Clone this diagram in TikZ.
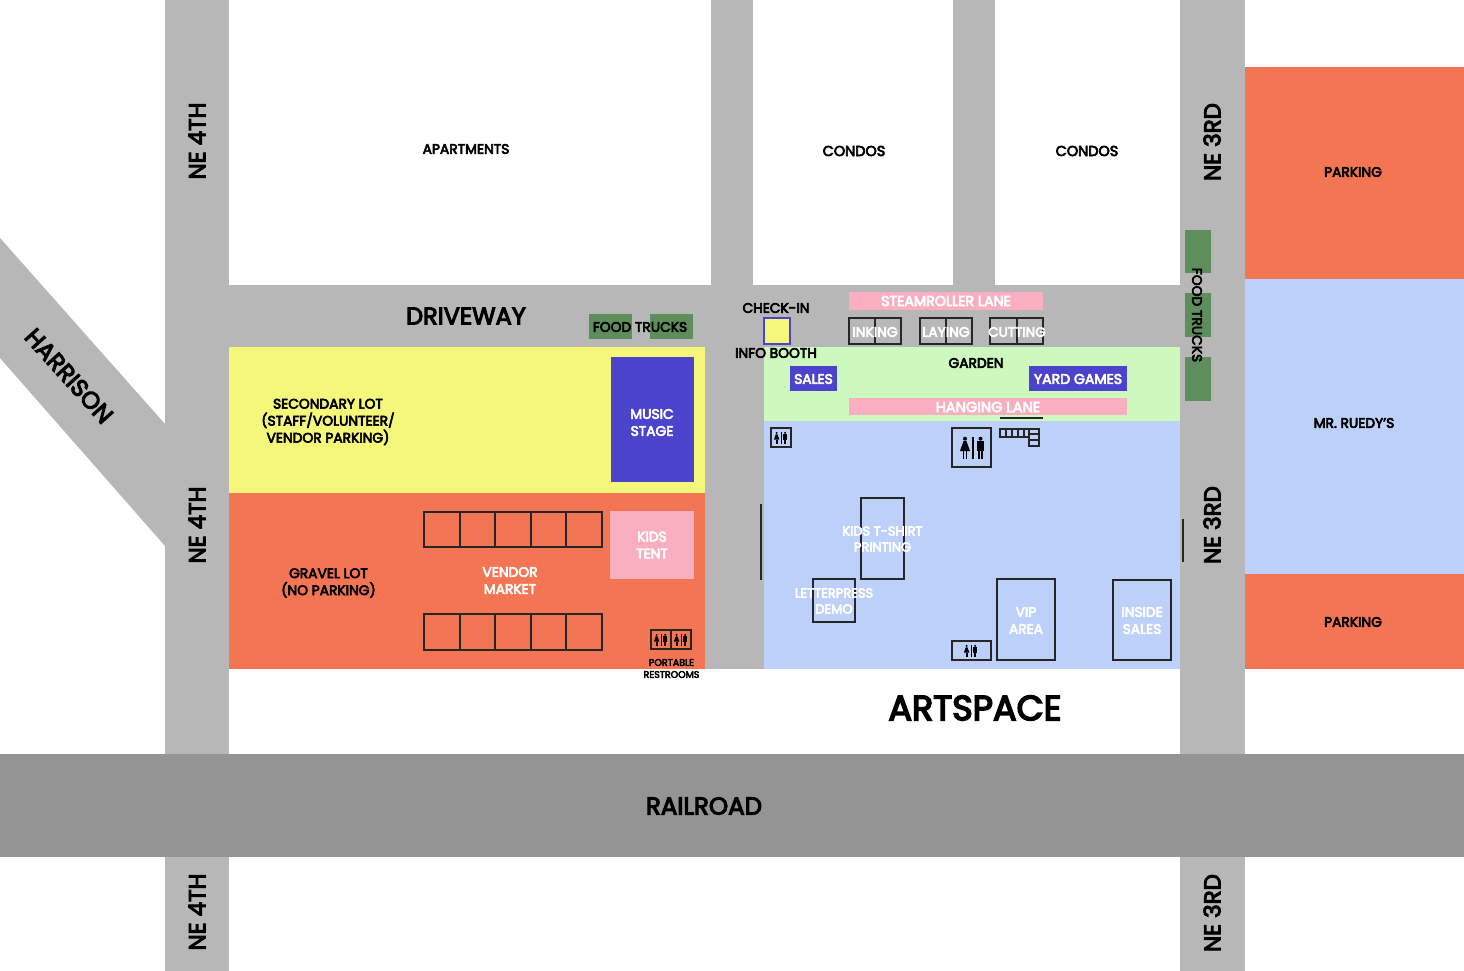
\documentclass[tikz,border=0pt]{standalone}
\usepackage{fontspec}
\setmainfont[FakeBold=4.5]{Poppins}
\definecolor{road}{HTML}{B7B7B7}
\definecolor{rail}{HTML}{949494}
\definecolor{lotyellow}{HTML}{F5F77A}
\definecolor{lotorange}{HTML}{F47553}
\definecolor{lotblue}{HTML}{BDD0F9}
\definecolor{lotgreen}{HTML}{CDF8BE}
\definecolor{stage}{HTML}{4C43CC}
\definecolor{lane}{HTML}{FAAFC1}
\definecolor{truck}{HTML}{5D8E5B}
\definecolor{ink}{HTML}{262626}
\newcommand{\fs}[2]{\fontsize{#1}{#2}\selectfont}
\tikzset{
  outl/.style={draw=ink,line width=2pt},
  lbl/.style={inner sep=0pt,align=center,text=black},
  wlbl/.style={inner sep=0pt,align=center,text=white},
  sm/.style={font=\fs{13.8}{17}},
  pics/wc/.style={code={
    \fill[black] (-8,-9.3) circle (2);
    \fill[black] (-9.5,-6.8) -- (-6.5,-6.8) -- (-3,3) -- (-13,3) -- cycle;
    \fill[black] (-10,3) rectangle (-8.8,11);
    \fill[black] (-7.2,3) rectangle (-6,11);
    \fill[black] (-.7,-11) rectangle (.7,11);
    \fill[black] (7.5,-9.3) circle (2);
    \fill[black] (4,-6.8) rectangle (11,3);
    \fill[black] (5.2,3) rectangle (7.2,11);
    \fill[black] (7.8,3) rectangle (9.8,11);
  }}
}
\begin{document}
\begin{tikzpicture}[x=1pt,y=-1pt]
\useasboundingbox (0,0) rectangle (1464,971);
\fill[white] (0,0) rectangle (1464,971);
% roads
\fill[road] (164.7,0) rectangle (229.3,971);
\fill[road] (1180,0) rectangle (1245,971);
\fill[road] (229,285) rectangle (1180,347);
\fill[road] (711,0) rectangle (753,347);
\fill[road] (953,0) rectangle (995,285);
\fill[road] (705,347) rectangle (764,669);
\fill[road] (0,238) -- (165,424) -- (165,546) -- (0,358) -- cycle;
\fill[rail] (0,754) rectangle (1464,857);
% lots
\fill[lotyellow] (229.3,347) rectangle (705,493);
\fill[lotorange] (229.3,493) rectangle (705,669);
\fill[lotgreen] (764,347) rectangle (1180,421);
\fill[lotblue] (764,421) rectangle (1180,669);
\fill[lotorange] (1245,67) rectangle (1464,279);
\fill[lotblue] (1245,279) rectangle (1464,574);
\fill[lotorange] (1245,574) rectangle (1464,669);
% filled blocks
\fill[stage] (611,357) rectangle (694,482);
\fill[lane] (610,511) rectangle (694,579);
\fill[truck] (589,314) rectangle (632,339);
\fill[truck] (650,314) rectangle (693,339);
\fill[truck] (1185,230) rectangle (1211,273);
\fill[truck] (1185,293) rectangle (1211,337);
\fill[truck] (1185,357) rectangle (1211,401);
\fill[lane] (849,292) rectangle (1043,310);
\fill[lane] (849,398) rectangle (1127,415);
\fill[stage] (790,366) rectangle (837,391);
\fill[stage] (1029,366) rectangle (1127,391);
\draw[fill=lotyellow,draw=stage,line width=2pt] (764,318) rectangle (790,344);
% vendor stalls
\foreach \a/\b in {424/460,460/495,495/531,531/566,566/602}{
  \draw[outl] (\a,512) rectangle (\b,547);
  \draw[outl] (\a,614) rectangle (\b,650);
}
% booths
\foreach \a/\m/\b in {849/875/901,920/946/972,990/1017/1043}{
  \draw[outl] (\a,318) rectangle (\b,344);
  \draw[outl] (\m,318) -- (\m,344);
}
\draw[outl] (861,498) rectangle (904,579);
\draw[outl] (813,579) rectangle (855,622);
\draw[outl] (997,579) rectangle (1055,660);
\draw[outl] (1113,580) rectangle (1171,660);
\draw[outl] (761,504) -- (761,580);
\draw[outl] (1183,519) -- (1183,562);
\draw[outl] (1000,418) -- (1043,418);
% bleachers
\draw[outl] (1000,428.5) rectangle (1029,437);
\foreach \x in {1006,1012,1018,1024}{\draw[draw=ink,line width=1.5pt] (\x,428.5) -- (\x,437);}
\draw[outl] (1029,428.5) rectangle (1039,445.5);
\draw[draw=ink,line width=1.5pt] (1029,434) -- (1039,434) (1029,440) -- (1039,440);
% restrooms
\draw[outl] (952,428) rectangle (991,467);
\pic at (973,448) {wc};
\draw[outl] (771,428) rectangle (791,447);
\pic[scale=.55] at (781,438) {wc};
\draw[outl] (952,641) rectangle (991,660);
\pic[scale=.55] at (971,651) {wc};
\draw[outl] (651,630) rectangle (671,649);
\draw[outl] (671,630) rectangle (691,649);
\pic[scale=.55] at (661,640) {wc};
\pic[scale=.55] at (681,640) {wc};
% labels
\node[lbl,sm] (apts) at (466,149) {APARTMENTS};
\node[lbl,font=\fs{14.4}{17}] (condoa) at (854,151) {CONDOS};
\node[lbl,font=\fs{14.4}{17}] (condob) at (1087,151) {CONDOS};
\node[lbl,sm] (parka) at (1353,172) {PARKING};
\node[lbl,sm] (parkb) at (1353,622) {PARKING};
\node[lbl,sm] (ruedy) at (1354,423) {MR. RUEDY’S};
\node[lbl,font=\fs{24}{28}] (drive) at (466,316) {DRIVEWAY};
\node[lbl,font=\fs{35}{40}] (artspace) at (975,708) {ARTSPACE};
\node[lbl,font=\fs{24.5}{28}] (railroad) at (704,806) {RAILROAD};
\foreach \n/\x/\y/\t in {a/197/141/NE 4TH,b/197/525/NE 4TH,c/197/912/NE 4TH,d/1212/142/NE 3RD,e/1212/525/NE 3RD,f/1212/913/NE 3RD}{
  \node[lbl,font=\fs{23}{27},rotate=90] (st\n) at (\x,\y) {\t};
}
\node[lbl,font=\fs{24}{28},rotate=-48] (harrison) at (69,376) {HARRISON};
\node[lbl,sm,rotate=-90] (fta) at (1197,315) {FOOD TRUCKS};
\node[lbl,sm] (ftb) at (640,327) {FOOD TRUCKS};
\node[lbl,sm] (checkin) at (776,308) {CHECK-IN};
\node[lbl,sm] (info) at (776,353) {INFO BOOTH};
\node[lbl,sm] (garden) at (976,363) {GARDEN};
\node[lbl,sm] (second) at (328,422) {SECONDARY LOT\\(STAFF/VOLUNTEER/\\VENDOR PARKING)};
\node[lbl,sm] (gravel) at (328.5,583) {GRAVEL LOT\\(NO PARKING)};
\node[lbl,font=\fs{9.5}{12}] (port) at (671.5,668.5) {PORTABLE\\RESTROOMS};
\node[wlbl,sm] (music) at (652,422.5) {MUSIC\\STAGE};
\node[wlbl,sm] (kids) at (652,545) {KIDS\\TENT};
\node[wlbl,sm] (vendor) at (510,580.5) {VENDOR\\MARKET};
\node[wlbl,font=\fs{14.2}{17}] (steam) at (946,301) {STEAMROLLER LANE};
\node[wlbl,font=\fs{14.6}{17}] (hang) at (988,407) {HANGING LANE};
\node[wlbl,sm] (ink) at (875,332) {INKING};
\node[wlbl,sm] (lay) at (946,332) {LAYING};
\node[wlbl,font=\fs{13.5}{17}] (cut) at (1017,332) {CUTTING};
\node[wlbl,sm] (sales) at (813.5,379) {SALES};
\node[wlbl,font=\fs{14.1}{17}] (yard) at (1078,379) {YARD GAMES};
\node[wlbl,font=\fs{13}{16}] (tshirt) at (882.5,539) {KIDS T-SHIRT\\PRINTING};
\node[wlbl,font=\fs{13}{16}] (letter) at (834,601) {LETTERPRESS\\DEMO};
\node[wlbl,sm] (vip) at (1026,620.5) {VIP\\AREA};
\node[wlbl,sm] (inside) at (1142,620.5) {INSIDE\\SALES};
\end{tikzpicture}
\end{document}
